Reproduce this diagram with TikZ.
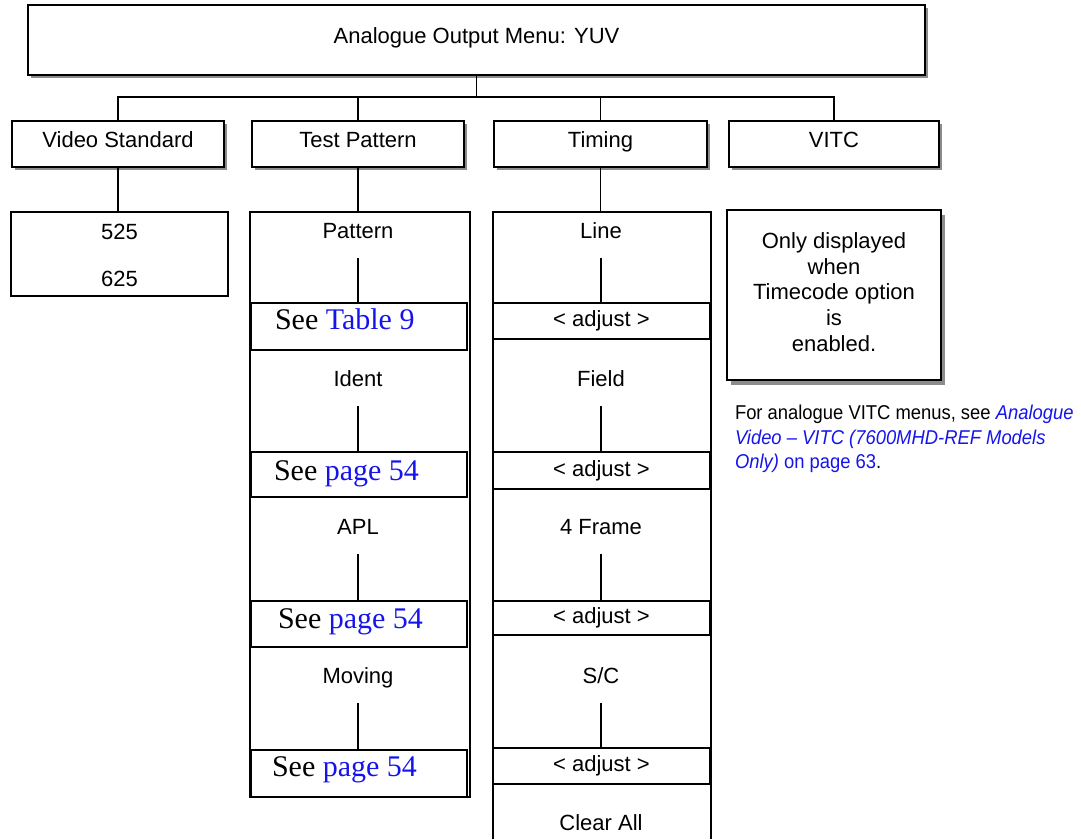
\documentclass[tikz,border=0pt]{standalone}
\usepackage{fontspec}
\newfontfamily\uifont{Liberation Sans}
\newfontfamily\notefont[FakeStretch=0.92]{Liberation Sans}
\newfontfamily\seefont{Liberation Serif}
\definecolor{linkblue}{RGB}{20,20,235}
\definecolor{shade}{RGB}{140,140,140}
\newcommand\seelink[1]{\textcolor{linkblue}{#1}}

\begin{document}
\begin{tikzpicture}[x=1pt,y=-1pt,
  every node/.style={inner sep=0pt, outer sep=0pt},
  ui/.style={font=\uifont\fontsize{22}{25.7}\selectfont},
  frame/.style={draw, line width=1.4pt, rectangle},
  frameline/.style={line width=1.4pt},
  conn/.style={line width=1.2pt},
  menubox/.style={frame, ui, fill=white, text height=16pt, text depth=10pt,
    preaction={fill=shade, transform canvas={shift={(3pt,-3pt)}}}},
  colitem/.style={ui, text height=16pt, text depth=4pt, minimum height=52pt},
  seebox/.style={frame, minimum width=216pt},
  seetext/.style={anchor=base west, font=\seefont\fontsize{30}{34}\selectfont},
  adjbox/.style={frame, ui, minimum width=217pt},
  adjside/.style={line width=2.6pt},
]
\useasboundingbox (0,0) rectangle (1081,839);

% ---- menu root and first level ----
\node[menubox, minimum width=897pt, minimum height=70pt] (menu) at (476.5,40) {Analogue Output Menu: YUV};

\node[menubox, minimum width=212pt, minimum height=46pt] (vstd)   at (118,144)   {Video Standard};
\node[menubox, minimum width=212pt, minimum height=46pt] (tpat)   at (358,144)   {Test Pattern};
\node[menubox, minimum width=213pt, minimum height=46pt] (timing) at (600.5,144) {Timing};
\node[menubox, minimum width=210pt, minimum height=46pt] (vitc)   at (834,144)   {VITC};

\coordinate (bus) at (475,97);
\draw[conn] (menu.south) -- (menu.south |- bus);
\draw[conn] (vstd.north) -- (vstd.north |- bus) -- (vitc.north |- bus) -- (vitc.north);
\draw[conn] (tpat.north) -- (tpat.north |- bus);
\draw[conn] (timing.north) -- (timing.north |- bus);

% ---- video standard ----
\node[frame, minimum width=217pt, minimum height=84pt] (std) at (119.5,254) {};
\node[ui] (s525) at (119.5,232) {525};
\node[ui] (s625) at (119.5,279) {625};
\draw[conn] (vstd.south) -- (vstd.south |- std.north);

% ---- test pattern column ----
\node[frame, minimum width=220pt, minimum height=585pt] (tpcol) at (360,504.5) {};
\draw[conn] (tpat.south) -- (tpat.south |- tpcol.north);

\node[colitem] (pat) at (358,232) {Pattern};
\node[seebox, minimum height=47pt] (see1) at (359,326.5) {};
\node[seetext] (see1t) at (275,329) {See \seelink{Table 9}};
\draw[conn] (pat.south) -- (pat.south |- see1.north);

\node[colitem] (ident) at (358,380) {Ident};
\node[seebox, minimum height=45pt] (see2) at (359,474.5) {};
\node[seetext] (see2t) at (274,480) {See \seelink{page 54}};
\draw[conn] (ident.south) -- (ident.south |- see2.north);

\node[colitem] (apl) at (358,528) {APL};
\node[seebox, minimum height=46pt] (see3) at (359,624) {};
\node[seetext] (see3t) at (278,628) {See \seelink{page 54}};
\draw[conn] (apl.south) -- (apl.south |- see3.north);

\node[colitem] (moving) at (358,677) {Moving};
\node[seebox, minimum height=47pt] (see4) at (359,773.5) {};
\node[seetext] (see4t) at (272,776) {See \seelink{page 54}};
\draw[conn] (moving.south) -- (moving.south |- see4.north);

% ---- timing column (runs past the lower edge) ----
\node[minimum width=218pt, minimum height=627pt] (timcol) at (602,525.5) {};
\draw[frameline] (timcol.south west) |- (timcol.north) -| (timcol.south east);
\draw[conn] (timing.south) -- (timing.south |- timcol.north);

\node[colitem] (line) at (601,232) {Line};
\node[adjbox, minimum height=36pt] (adj1) at (601.5,321) {< adjust >};
\draw[conn] (line.south) -- (line.south |- adj1.north);

\node[colitem] (field) at (601,380) {Field};
\node[adjbox, minimum height=37pt] (adj2) at (601.5,470.5) {< adjust >};
\draw[conn] (field.south) -- (field.south |- adj2.north);

\node[colitem] (frame4) at (601,528) {4 Frame};
\node[adjbox, minimum height=34pt] (adj3) at (601.5,618) {< adjust >};
\draw[conn] (frame4.south) -- (frame4.south |- adj3.north);

\node[colitem] (sc) at (601,677) {S/C};
\node[adjbox, minimum height=36pt] (adj4) at (601.5,766) {< adjust >};
\draw[conn] (sc.south) -- (sc.south |- adj4.north);

\foreach \a in {adj1,adj2,adj3,adj4}{
  \draw[adjside] (\a.north west) -- (\a.south west);
  \draw[adjside] (\a.north east) -- (\a.south east);
}

\node[ui] (clear) at (601,823) {Clear All};

% ---- VITC note ----
\node[frame, fill=white, minimum width=214pt, minimum height=170pt,
  preaction={fill=shade, transform canvas={shift={(4pt,-5pt)}}}] (note) at (834,295) {};
\node[ui, align=center] (notetext) at (834,292)
  {Only displayed\\when\\Timecode option\\is\\enabled.};

\node[anchor=north west, align=left, font=\notefont\fontsize{20}{24.5}\selectfont] (vitcref) at (735,405)
  {For analogue VITC menus, see \seelink{\itshape Analogue}\\
   \seelink{\itshape Video – VITC (7600MHD-REF Models}\\
   \seelink{\itshape Only)} \seelink{on page 63}.};
\end{tikzpicture}
\end{document}
